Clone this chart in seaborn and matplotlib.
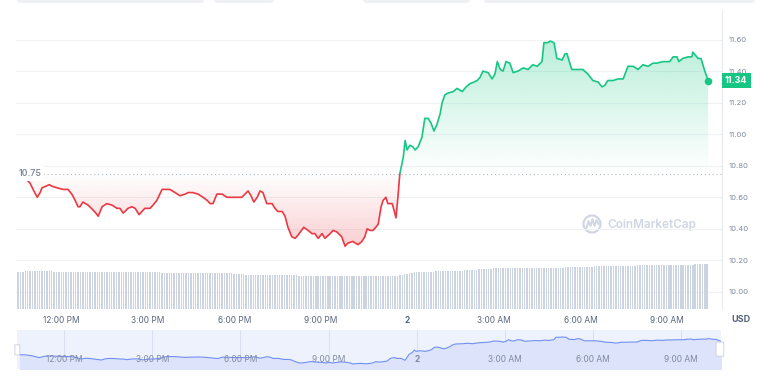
import numpy as np
import pandas as pd
import matplotlib.pyplot as plt
import matplotlib.dates as mdates
import matplotlib.colors as mcolors
import matplotlib.transforms as mtransforms
from matplotlib.patches import FancyBboxPatch, Circle
import seaborn as sns

# ---------------------------
# Data
# ---------------------------
start = pd.Timestamp("2023-06-01 10:29")
baseline = 10.75          # opening price, dotted reference line

# minutes after the first quote
minutes = [
    0, 12, 25, 33, 40, 46, 50, 58, 65, 71, 81, 94, 104, 112, 119, 125, 129, 135, 146, 156,
    162, 167, 175, 185, 196, 206, 212, 219, 229, 237, 244, 252, 264, 275, 281, 289, 300, 310, 316, 327,
    337, 348, 354, 364, 375, 385, 394, 400, 406, 414, 425, 435, 446, 456, 466, 479, 485, 491, 498, 504,
    510, 518, 529, 535, 541, 550, 556, 562, 570, 577, 583, 595, 604, 612, 618, 625, 633, 639, 650, 656,
    664, 674, 681, 687, 697, 708, 716, 722, 727, 733, 739, 745, 750, 756, 760, 766, 770, 779, 781, 787,
    791, 795, 802, 806, 810, 816, 822, 827, 833, 841, 847, 854, 860, 866, 872, 879, 883, 889, 895, 906,
    914, 925, 933, 941, 949, 956, 962, 968, 979, 987, 993, 998, 1004, 1010, 1016, 1024, 1031, 1041, 1052, 1062,
    1072, 1081, 1091, 1095, 1103, 1108, 1116, 1122, 1133, 1139, 1143, 1153, 1162, 1170, 1176, 1187, 1197, 1208, 1216, 1222,
    1228, 1239, 1249, 1253, 1260, 1270, 1281, 1291, 1301, 1312, 1322, 1330, 1343, 1351, 1357, 1364, 1372, 1376, 1384, 1395,
    1403, 1405, 1416, 1422, 1430, 1437,
]

price = [
    10.74, 10.73, 10.69, 10.64, 10.60, 10.63, 10.66, 10.67, 10.68, 10.67, 10.66, 10.65, 10.65, 10.62, 10.58, 10.54, 10.54, 10.57, 10.55, 10.52,
    10.50, 10.48, 10.54, 10.56, 10.55, 10.53, 10.53, 10.50, 10.53, 10.54, 10.53, 10.49, 10.53, 10.53, 10.55, 10.58, 10.65, 10.65, 10.65, 10.63,
    10.61, 10.62, 10.63, 10.63, 10.62, 10.60, 10.58, 10.56, 10.56, 10.62, 10.62, 10.60, 10.60, 10.60, 10.60, 10.64, 10.61, 10.57, 10.60, 10.64,
    10.63, 10.56, 10.56, 10.53, 10.51, 10.51, 10.48, 10.41, 10.35, 10.34, 10.36, 10.41, 10.39, 10.37, 10.37, 10.34, 10.37, 10.34, 10.37, 10.39,
    10.38, 10.35, 10.29, 10.31, 10.32, 10.30, 10.32, 10.35, 10.40, 10.39, 10.39, 10.41, 10.43, 10.54, 10.58, 10.60, 10.56, 10.56, 10.54, 10.47,
    10.60, 10.75, 10.85, 10.96, 10.90, 10.93, 10.92, 10.90, 10.92, 10.98, 11.10, 11.10, 11.07, 11.02, 11.06, 11.13, 11.20, 11.25, 11.26, 11.27,
    11.29, 11.27, 11.30, 11.32, 11.33, 11.34, 11.36, 11.40, 11.39, 11.35, 11.38, 11.46, 11.41, 11.40, 11.46, 11.45, 11.39, 11.40, 11.42, 11.41,
    11.44, 11.43, 11.46, 11.58, 11.58, 11.59, 11.58, 11.48, 11.47, 11.51, 11.51, 11.41, 11.41, 11.41, 11.41, 11.38, 11.34, 11.33, 11.30, 11.31,
    11.34, 11.34, 11.35, 11.35, 11.35, 11.43, 11.43, 11.41, 11.44, 11.43, 11.45, 11.45, 11.46, 11.46, 11.46, 11.49, 11.49, 11.46, 11.48, 11.49,
    11.49, 11.52, 11.48, 11.48, 11.40, 11.34,
]

# 5-minute volume bars (arbitrary units, one row per hour)
volume = [
    99.5, 99.5, 99.5, 100.5, 100.5, 100.5, 100.5, 100.5, 100.5, 100.5, 100.5, 100.5,
    100.5, 100.5, 100.5, 100.0, 99.0, 99.0, 99.0, 99.0, 99.0, 99.0, 99.0, 99.0,
    99.0, 99.0, 99.0, 99.0, 99.0, 99.0, 99.0, 99.0, 99.0, 99.0, 99.0, 99.0,
    99.0, 99.0, 99.0, 99.0, 99.0, 99.0, 98.5, 98.5, 98.5, 98.5, 98.5, 98.5,
    98.5, 98.5, 98.5, 98.5, 98.5, 98.5, 98.0, 98.0, 98.0, 98.0, 98.0, 98.0,
    97.5, 97.5, 97.5, 97.5, 97.5, 97.5, 97.5, 97.5, 97.0, 97.0, 97.0, 97.0,
    96.5, 96.5, 96.5, 96.5, 96.5, 96.5, 96.0, 96.0, 96.0, 96.0, 96.0, 96.0,
    95.0, 95.0, 95.0, 95.0, 95.0, 95.0, 94.0, 94.0, 94.0, 94.0, 93.0, 92.0,
    91.0, 91.0, 91.0, 91.0, 91.0, 91.0, 91.0, 91.0, 91.0, 91.0, 91.0, 91.0,
    90.5, 90.5, 90.5, 90.5, 90.5, 90.5, 90.0, 90.0, 90.0, 89.5, 89.5, 89.5,
    88.5, 88.5, 88.5, 88.5, 88.5, 88.5, 88.5, 88.5, 88.0, 88.0, 88.0, 88.0,
    87.0, 87.0, 87.0, 87.0, 87.0, 87.0, 87.0, 87.0, 87.0, 87.0, 87.0, 87.0,
    87.0, 87.0, 87.0, 87.0, 88.0, 88.0, 88.0, 88.0, 88.0, 88.0, 88.5, 88.5,
    88.5, 88.5, 89.0, 90.0, 91.0, 92.5, 94.0, 95.5, 97.0, 98.0, 99.0, 99.5,
    100.0, 100.0, 100.0, 100.0, 100.0, 100.0, 101.0, 101.0, 101.0, 101.0, 101.0, 101.0,
    103.0, 103.0, 103.0, 103.0, 103.0, 103.0, 105.0, 105.0, 105.0, 105.0, 105.0, 105.0,
    107.0, 107.0, 107.0, 107.0, 107.0, 107.0, 108.5, 108.5, 108.5, 108.5, 108.5, 108.5,
    109.5, 109.5, 109.5, 109.5, 109.5, 109.5, 109.5, 109.5, 109.5, 109.5, 109.5, 109.5,
    111.0, 111.0, 111.0, 111.0, 111.0, 111.0, 111.0, 111.0, 111.0, 111.0, 111.0, 111.0,
    112.5, 112.5, 112.5, 112.5, 112.5, 112.5, 113.5, 113.5, 113.5, 113.5, 113.5, 113.5,
    115.0, 115.0, 115.0, 115.0, 115.0, 115.0, 115.0, 115.0, 115.0, 115.0, 115.0, 115.0,
    116.0, 116.0, 116.0, 116.0, 116.0, 116.0, 117.0, 117.0, 117.0, 117.0, 117.0, 117.0,
    117.5, 117.5, 117.5, 117.5, 117.5, 117.5, 117.5, 117.5, 117.5, 117.5, 117.5, 117.5,
    118.5, 118.5, 118.5, 118.5, 118.5, 118.5, 120.0, 120.0, 120.0, 120.0, 120.0, 120.0,
]

y_ticks = [10.00, 10.20, 10.40, 10.60, 10.80, 11.00, 11.20, 11.40, 11.60]
x_tick_times = ["2023-06-01 12:00", "2023-06-01 15:00", "2023-06-01 18:00", "2023-06-01 21:00",
                "2023-06-02 00:00", "2023-06-02 03:00", "2023-06-02 06:00", "2023-06-02 09:00"]
x_tick_labels = ["12:00 PM", "3:00 PM", "6:00 PM", "9:00 PM", "2", "3:00 AM", "6:00 AM", "9:00 AM"]

GREEN = "#16c784"
RED = "#ea3943"
GRID = "#eff2f5"
TEXT = "#58667e"
LIGHT = "#808a9d"

# ---------------------------
# Styling
# ---------------------------
sns.set_style("white")
plt.rcParams["font.family"] = ["Inter", "DejaVu Sans"]

df = pd.DataFrame({"time": start + pd.to_timedelta(minutes, unit="min"), "price": price})
df["up"] = df["price"].where(df["price"] >= baseline)
df["down"] = df["price"].where(df["price"] <= baseline)
xnum = mdates.date2num(df["time"])
vol_times = start + pd.to_timedelta(np.arange(len(volume)) * 5, unit="min")
tick_times = pd.to_datetime(x_tick_times)

W, H = 784, 381
fig = plt.figure(figsize=(W / 100, H / 100), dpi=100)


def frac(x0, y0, x1, y1):
    return [x0 / W, 1 - y1 / H, (x1 - x0) / W, (y1 - y0) / H]


# pixel-space layer for decorations (buttons, watermark)
deco = fig.add_axes([0, 0, 1, 1])
deco.set_xlim(0, W)
deco.set_ylim(H, 0)
deco.axis("off")
for x0, x1 in [(17, 204), (214, 274), (363, 470), (484, 755)]:
    deco.add_patch(FancyBboxPatch((x0, -8), x1 - x0, 11, boxstyle="round,pad=0,rounding_size=4",
                                  fc="#eef0f3", ec="none"))
wm = "#cfd6e4"
deco.add_patch(Circle((592, 224), 8.5, fill=False, ec=wm, lw=1.6))
deco.plot([586.5, 588.5, 590.5, 592.5, 594.5, 596.5, 598.5], [228, 221, 226, 219, 226, 220, 224],
          color=wm, lw=1.4, solid_joinstyle="round")
deco.text(607, 225, "CoinMarketCap", ha="left", va="center", fontsize=8.5, color=wm, fontweight="semibold")

# ---------------------------
# Main price chart
# ---------------------------
ax = fig.add_axes(frac(16, 10, 722, 309))
ax.patch.set_alpha(0)
axv = ax.twinx()
ax.yaxis.tick_right()

y_lo, y_hi = 9.892, 11.787


def gradient_fill(y_edge, far, color, alpha):
    poly = ax.fill_between(xnum, y_edge, baseline, facecolor="none", edgecolor="none")
    rgba = np.zeros((256, 1, 4))
    rgba[..., :3] = mcolors.to_rgb(color)
    rgba[..., 3] = np.linspace(0, alpha, 256)[:, None]
    im = ax.imshow(rgba, extent=[xnum.min(), xnum.max(), baseline, far], origin="lower",
                   aspect="auto", zorder=1, interpolation="bilinear")
    im.set_clip_path(poly.get_paths()[0], transform=ax.transData)


gradient_fill(np.maximum(df["price"], baseline), 11.60, GREEN, 0.30)
gradient_fill(np.minimum(df["price"], baseline), 10.29, RED, 0.24)

ax.axhline(baseline, color="#b3bbc7", lw=0.8, ls=(0, (1, 2.5)), zorder=2)
sns.lineplot(data=df, x="time", y="down", color=RED, lw=1.2, ax=ax, zorder=4)
sns.lineplot(data=df, x="time", y="up", color=GREEN, lw=1.2, ax=ax, zorder=4)
ax.scatter(df["time"].iloc[-1], price[-1], s=30, color=GREEN, zorder=5, linewidths=0)

ax.set_xlim(start - pd.Timedelta(minutes=4.2), start + pd.Timedelta(minutes=1465.8))
ax.set_ylim(y_lo, y_hi)
ax.set_xlabel("")
ax.set_ylabel("")
ax.set_yticks(y_ticks)
ax.set_yticklabels([f"{v:.2f}" for v in y_ticks])
ax.set_xticks(tick_times)
ax.set_xticklabels(x_tick_labels)
ax.get_xticklabels()[4].set_fontweight("bold")
ax.get_xticklabels()[4].set_color("#3a4253")
ax.tick_params(axis="y", length=0, pad=5, labelsize=5.5, labelcolor=LIGHT)
ax.tick_params(axis="x", length=0, pad=4.8, labelsize=6, labelcolor=TEXT)
ax.grid(axis="y", color=GRID, lw=0.8)
ax.set_axisbelow(True)
for side in ["top", "left", "bottom"]:
    ax.spines[side].set_visible(False)
ax.spines["right"].set_color("#e6e9ee")
ax.spines["right"].set_linewidth(0.8)

# opening-price tag on the left and last-price tag on the right
ax.text(0.004, baseline, f"{baseline:.2f}", transform=mtransforms.blended_transform_factory(ax.transAxes, ax.transData),
        ha="left", va="center", fontsize=6.3, color=LIGHT, fontweight="semibold",
        bbox=dict(boxstyle="square,pad=0.3", fc="white", ec="none"), zorder=6)
ax.annotate(f"{price[-1]:.2f}", xy=(1, price[-1]), xycoords=("axes fraction", "data"),
            xytext=(2.2, 0), textcoords="offset points", ha="left", va="center",
            fontsize=6.5, color="white", fontweight="bold", annotation_clip=False,
            bbox=dict(boxstyle="square,pad=0.35", fc=GREEN, ec="none"), zorder=6)

# volume bars at the bottom of the chart
axv.bar(vol_times, volume, width=0.6 * 5 / 1440, color="#ccd3e1", linewidth=0)
axv.set_ylim(0, 800)
axv.yaxis.set_visible(False)
for s in axv.spines.values():
    s.set_visible(False)

fig.text(741 / W, 1 - 320 / H, "USD", ha="center", va="center", fontsize=6.5, fontweight="bold", color=TEXT)

# ---------------------------
# Navigator strip
# ---------------------------
nav = fig.add_axes(frac(17, 330, 721, 369))
nav.set_facecolor("#eef2fd")
nav.fill_between(xnum, df["price"], 10.0, color="#dce3fb", lw=0)
sns.lineplot(data=df, x="time", y="price", color="#6f8ff2", lw=0.8, ax=nav)
nav.set_xlim(start - pd.Timedelta(minutes=5), start + pd.Timedelta(minutes=1432))
nav.set_ylim(10.05, 11.93)
nav_tr = mtransforms.blended_transform_factory(nav.transData, nav.transAxes)
for t, lab in zip(tick_times, x_tick_labels):
    nav.axvline(t, color="#d5dcf2", lw=0.6, zorder=0)
    nav.text(t, 0.256, lab, transform=nav_tr, ha="center", va="center", fontsize=6,
             color=LIGHT, fontweight="bold" if lab == "2" else "normal")
nav.set_xticks([])
nav.set_yticks([])
nav.set_xlabel("")
nav.set_ylabel("")
for s in nav.spines.values():
    s.set_visible(False)
for x0, y0, w, h in [(-0.003, 0.36, 0.007, 0.26), (0.993, 0.33, 0.011, 0.36)]:
    nav.add_patch(FancyBboxPatch((x0, y0), w, h, boxstyle="round,pad=0,rounding_size=0.003",
                                 transform=nav.transAxes, fc="white", ec="#c8cfdb", lw=0.6,
                                 clip_on=False, zorder=5))

fig.savefig("out.png", dpi=100)
plt.close(fig)
